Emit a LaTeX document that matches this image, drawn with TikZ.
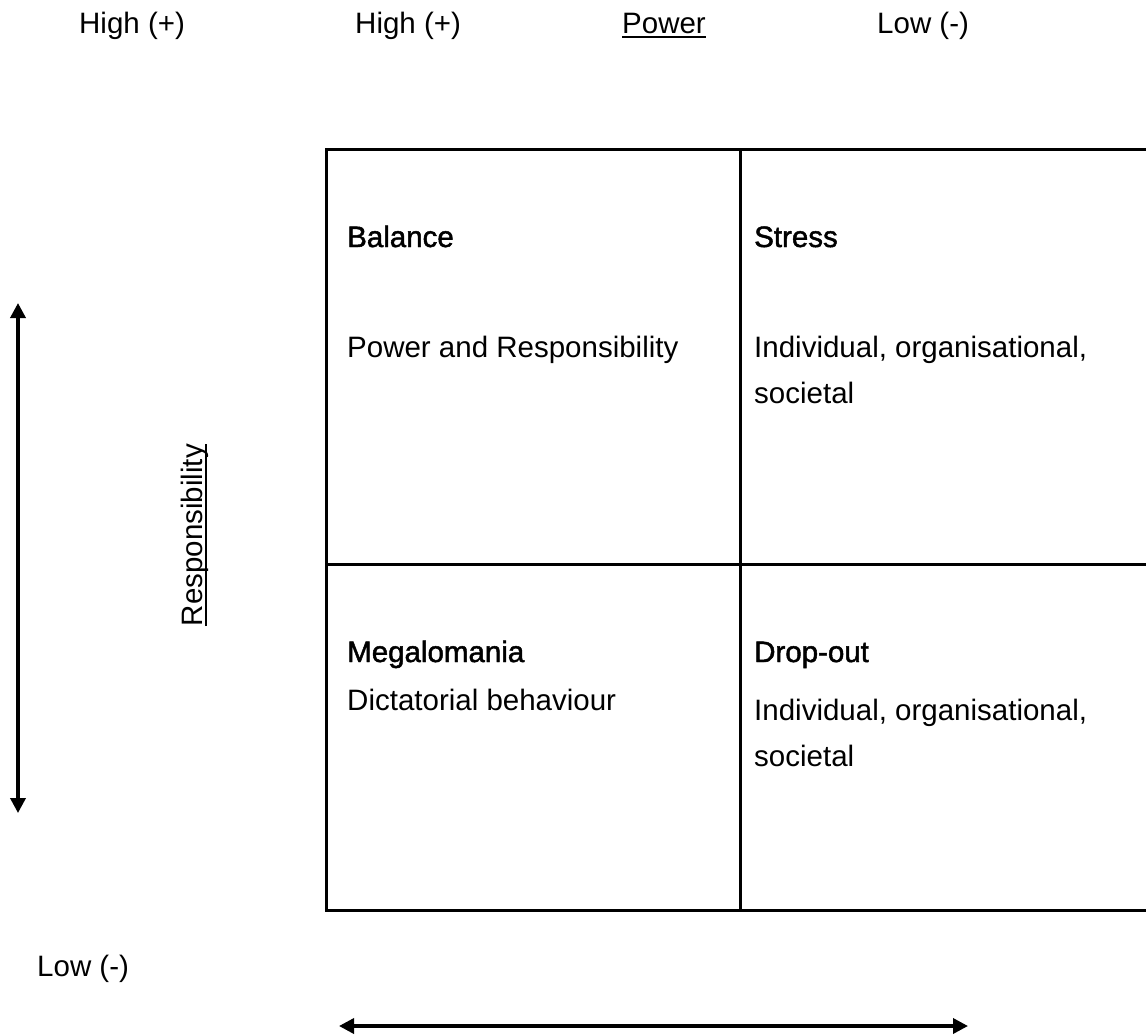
\documentclass[tikz,border=0pt]{standalone}
\usepackage{fontspec}
\setmainfont{Liberation Sans}
\newfontfamily\headfont[FakeBold=1.6]{Liberation Sans}
\usetikzlibrary{arrows.meta}
\tikzset{
  lbl/.style={anchor=base west, inner sep=0pt, font=\fontsize{29.5}{34}\selectfont},
  head/.style={lbl, font=\fontsize{29.5}{34}\selectfont\headfont},
  grid/.style={line width=3pt, line cap=rect},
  dblarrow/.style={line width=3.5pt, {Triangle[width=15pt,length=15pt]}-{Triangle[width=15pt,length=15pt]}},
  uline/.style={line width=2pt}
}
\begin{document}
\begin{tikzpicture}[x=1pt,y=1pt]
\useasboundingbox (0,0) rectangle (1146,-1034);
% top labels
\node[lbl] (h1) at (79,-33) {High (+)};
\node[lbl] (h2) at (355,-33) {High (+)};
\node[lbl] (pow) at (622,-33) {Power};
\node[lbl] (lowtop) at (877,-33) {Low (-)};
\draw[uline] ([yshift=-4pt]pow.base west) -- ([yshift=-4pt]pow.base east);
% grid
\coordinate (tl) at (326,-149);
\coordinate (tm) at (740,-149);
\coordinate (tr) at (1150,-149);
\coordinate (ml) at (326,-564);
\coordinate (mr) at (1150,-564);
\coordinate (bl) at (326,-910);
\coordinate (bm) at (740,-910);
\coordinate (br) at (1150,-910);
\draw[grid] (tr) -- (tl) -- (bl) -- (br);
\draw[grid] (tm) -- (bm);
\draw[grid] (ml) -- (mr);
% cells
\node[head] (bal) at (347,-247) {Balance};
\node[lbl] (pr) at (347,-357) {Power and Responsibility};
\node[head] (str) at (754,-247) {Stress};
\node[lbl] (ind1) at (754,-357) {Individual, organisational,};
\node[lbl] (soc1) at (754,-403) {societal};
\node[head] (meg) at (347,-662) {Megalomania};
\node[lbl] (dic) at (347,-710) {Dictatorial behaviour};
\node[head] (drop) at (754,-662) {Drop-out};
\node[lbl] (ind2) at (754,-720) {Individual, organisational,};
\node[lbl] (soc2) at (754,-766) {societal};
% side
\node[lbl, anchor=base, rotate=90] (resp) at (202,-535) {Responsibility};
\draw[uline] ([xshift=4pt]resp.base west) -- ([xshift=4pt]resp.base east);
\node[lbl] (lowbot) at (37,-976) {Low (-)};
% arrows
\coordinate (va) at (18,-303);
\coordinate (vb) at (18,-813);
\draw[dblarrow] (va) -- (vb);
\coordinate (ha) at (339,-1026);
\coordinate (hb) at (968,-1026);
\draw[dblarrow] (ha) -- (hb);
\end{tikzpicture}
\end{document}
